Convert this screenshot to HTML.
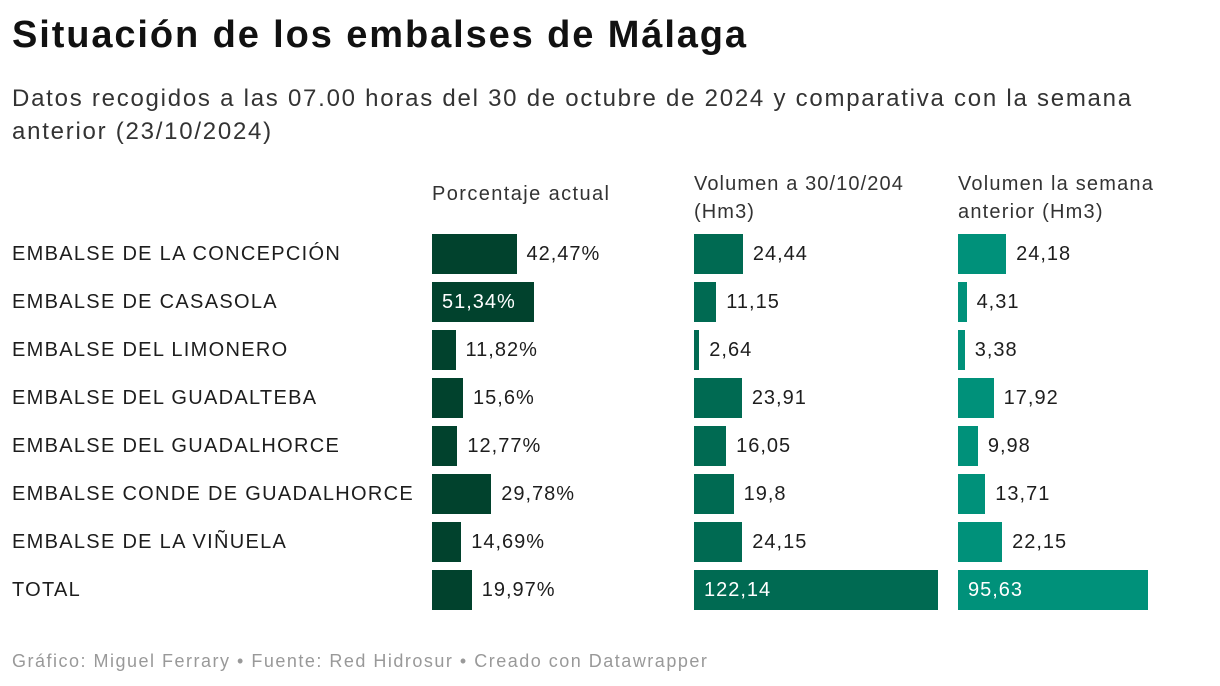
<!DOCTYPE html>
<html><head><meta charset="utf-8">
<style>
body{margin:0;width:1220px;height:686px;background:#fff;font-family:"Liberation Sans",sans-serif;color:#1d1d1d;position:relative;overflow:hidden}
.t{position:absolute;white-space:nowrap}
</style></head>
<body>
<div class="t" style="left:12px;top:14px;font-size:38px;font-weight:bold;color:#111;letter-spacing:1.9px">Situación de los embalses de Málaga</div>
<div class="t" style="left:12px;top:82px;font-size:24px;line-height:33px;color:#333;white-space:normal;width:1170px;letter-spacing:1.75px">Datos recogidos a las 07.00 horas del 30 de octubre de 2024 y comparativa con la semana anterior (23/10/2024)</div>
<div class="t" style="left:432px;top:183px;font-size:20px;color:#333;letter-spacing:1.4px">Porcentaje actual</div>
<div class="t" style="left:694px;top:170px;font-size:20px;line-height:28px;color:#333;letter-spacing:1.1px">Volumen a 30/10/204<br>(Hm3)</div>
<div class="t" style="left:958px;top:170px;font-size:20px;line-height:28px;color:#333;letter-spacing:1.2px">Volumen la semana<br>anterior (Hm3)</div>
<div id="rows"></div>
<div class="t" style="left:12px;top:651px;font-size:18px;color:#999;letter-spacing:1.5px">Gráfico: Miguel Ferrary • Fuente: Red Hidrosur • Creado con Datawrapper</div>
<script>
const categories=["EMBALSE DE LA CONCEPCIÓN","EMBALSE DE CASASOLA","EMBALSE DEL LIMONERO","EMBALSE DEL GUADALTEBA","EMBALSE DEL GUADALHORCE","EMBALSE CONDE DE GUADALHORCE","EMBALSE DE LA VIÑUELA","TOTAL"];
const porcentaje=[42.47,51.34,11.82,15.6,12.77,29.78,14.69,19.97];
const volumenActual=[24.44,11.15,2.64,23.91,16.05,19.8,24.15,122.14];
const volumenAnterior=[24.18,4.31,3.38,17.92,9.98,13.71,22.15,95.63];
const porcentajeLabels=["42,47%","51,34%","11,82%","15,6%","12,77%","29,78%","14,69%","19,97%"];
const actualLabels=["24,44","11,15","2,64","23,91","16,05","19,8","24,15","122,14"];
const anteriorLabels=["24,18","4,31","3,38","17,92","9,98","13,71","22,15","95,63"];
const root=document.getElementById('rows');
const rowY=i=>234+i*48;
const cols=[
 {vals:porcentaje,labels:porcentajeLabels,x0:432,scale:1.99,color:"#01422d",name:"porcentaje"},
 {vals:volumenActual,labels:actualLabels,x0:694,scale:2.0,color:"#006a52",name:"volumen-actual"},
 {vals:volumenAnterior,labels:anteriorLabels,x0:958,scale:1.99,color:"#00917a",name:"volumen-anterior"}];
categories.forEach((c,i)=>{
 const l=document.createElement('div');l.className='t';
 
 
 l.style.cssText=`left:12px;top:${rowY(i)+9}px;font-size:20px;letter-spacing:1.3px`;l.textContent=c;root.appendChild(l);
});
cols.forEach(col=>{
 const mx=Math.max(...col.vals);
 col.vals.forEach((v,i)=>{
  const w=v*col.scale;
  const b=document.createElement('div');
  
  
  b.style.cssText=`position:absolute;left:${col.x0}px;top:${rowY(i)}px;width:${w}px;height:40px;background:${col.color}`;
  root.appendChild(b);
  const t=document.createElement('div');t.className='t';
  
  
  const inside=v===mx;
  t.style.cssText=`left:${inside?col.x0+10:col.x0+w+10}px;top:${rowY(i)+9}px;font-size:20px;letter-spacing:1px;color:${inside?'#fff':'#1d1d1d'}`;
  t.textContent=col.labels[i];root.appendChild(t);
 });
});
</script>
</body></html>
